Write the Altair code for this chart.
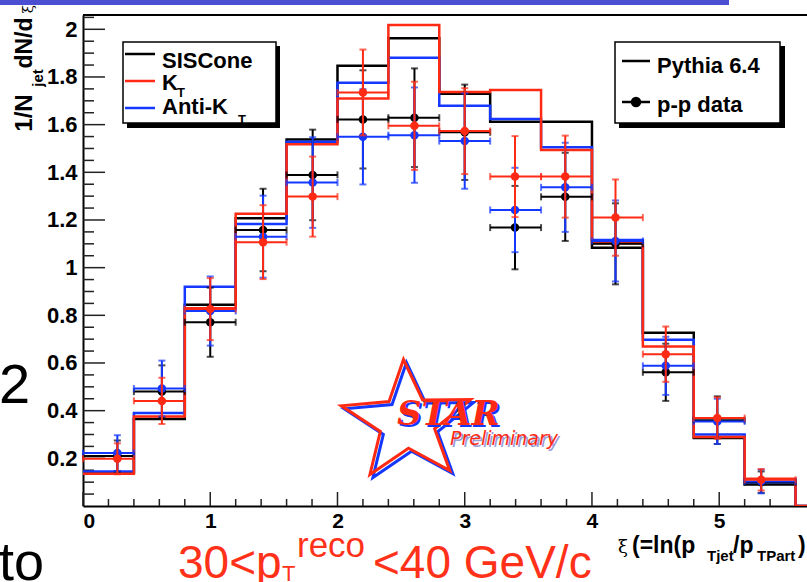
import math
import altair as alt
import pandas as pd

# ---------------- data ----------------
bin_edges = [0.0, 0.4, 0.8, 1.2, 1.6, 2.0, 2.4, 2.8, 3.2, 3.6, 4.0, 4.4, 4.8, 5.2, 5.6]
x_max = 5.69

# Pythia 6.4 histograms (per jet algorithm)
hist_siscone = [0.14, 0.365, 0.844, 1.207, 1.538, 1.847, 1.962, 1.73, 1.612, 1.612, 1.084, 0.727, 0.285, 0.09]
hist_kt = [0.135, 0.375, 0.83, 1.226, 1.518, 1.71, 2.018, 1.737, 1.745, 1.494, 1.102, 0.669, 0.29, 0.114]
hist_antikt = [0.145, 0.39, 0.92, 1.183, 1.528, 1.776, 1.881, 1.679, 1.624, 1.505, 1.116, 0.697, 0.30, 0.10]

# p-p data points (mean xi of each bin)
xi_points = [0.27, 0.62, 1.0, 1.415, 1.805, 2.2, 2.605, 3.0, 3.395, 3.79, 4.185, 4.58, 4.985, 5.33]
data_siscone = [0.21, 0.48, 0.771, 1.158, 1.389, 1.622, 1.629, 1.568, 1.168, 1.297, 1.10, 0.561, 0.36, 0.10]
err_siscone = [0.065, 0.11, 0.145, 0.173, 0.19, 0.206, 0.207, 0.2, 0.175, 0.185, 0.17, 0.12, 0.10, 0.045]
data_kt = [0.198, 0.441, 0.826, 1.107, 1.298, 1.735, 1.595, 1.573, 1.382, 1.382, 1.21, 0.637, 0.369, 0.11]
err_kt = [0.065, 0.097, 0.13, 0.155, 0.168, 0.18, 0.185, 0.18, 0.17, 0.172, 0.16, 0.116, 0.087, 0.045]
data_antikt = [0.222, 0.493, 0.818, 1.13, 1.357, 1.549, 1.556, 1.531, 1.242, 1.337, 1.112, 0.588, 0.355, 0.103]
err_antikt = [0.075, 0.117, 0.145, 0.172, 0.19, 0.2, 0.2, 0.2, 0.177, 0.187, 0.17, 0.122, 0.095, 0.05]

series_colors = ["#000000", "#ff2a14", "#1438ff"]

x_major = [0, 1, 2, 3, 4, 5]
y_major = [0.2, 0.4, 0.6, 0.8, 1.0, 1.2, 1.4, 1.6, 1.8, 2.0]

# ---------------- layout ----------------
W, H = 724, 491
Y_TOP = 2.06
FONT = "Liberation Sans"
RED_TEXT = "#ff3219"

xs = alt.Scale(domain=[0, x_max], nice=False, zero=False)
ys = alt.Scale(domain=[0, Y_TOP], nice=False, zero=False)


def hist_layer(values, color):
    xs_ = bin_edges + [x_max]
    ys_ = values + [0.0, 0.0]
    df = pd.DataFrame({"x": xs_, "y": ys_})
    return alt.Chart(df).mark_line(
        interpolate="step-after", color=color, strokeWidth=2.5, clip=True
    ).encode(x=alt.X("x:Q", scale=xs), y=alt.Y("y:Q", scale=ys))


def data_layers(vals, errs, color):
    df = pd.DataFrame({
        "x": xi_points,
        "y": vals,
        "lo": [v - e for v, e in zip(vals, errs)],
        "hi": [v + e for v, e in zip(vals, errs)],
        "xlo": bin_edges[:-1],
        "xhi": bin_edges[1:],
    })
    base = alt.Chart(df)
    X = lambda f: alt.X(f"{f}:Q", scale=xs)
    Y = lambda f: alt.Y(f"{f}:Q", scale=ys)
    return [
        base.mark_rule(color=color, strokeWidth=2).encode(x=X("x"), y=Y("lo"), y2="hi:Q"),
        base.mark_rule(color=color, strokeWidth=2).encode(x=X("xlo"), x2="xhi:Q", y=Y("y")),
        base.mark_tick(orient="horizontal", color=color, size=7, thickness=2).encode(x=X("x"), y=Y("lo")),
        base.mark_tick(orient="horizontal", color=color, size=7, thickness=2).encode(x=X("x"), y=Y("hi")),
        base.mark_tick(orient="vertical", color=color, size=7, thickness=2).encode(x=X("xlo"), y=Y("y")),
        base.mark_tick(orient="vertical", color=color, size=7, thickness=2).encode(x=X("xhi"), y=Y("y")),
        base.mark_circle(color=color, size=72, opacity=1).encode(x=X("x"), y=Y("y")),
    ]


def text(t, x, y, size=22, weight="bold", color="black", font=FONT, angle=0,
         align="left", baseline="alphabetic", style="normal"):
    kw = dict(font=font, fontSize=size, fontWeight=weight, color=color,
              align=align, baseline=baseline, fontStyle=style)
    if angle:
        kw["angle"] = angle
    return alt.Chart(pd.DataFrame({"t": [t]})).mark_text(**kw).encode(
        text="t:N", x=alt.value(x), y=alt.value(y))


def rect(x, x2, y, y2, fill, stroke=None, sw=0):
    kw = dict(fill=fill)
    if stroke:
        kw.update(stroke=stroke, strokeWidth=sw)
    return alt.Chart(pd.DataFrame({"a": [0]})).mark_rect(**kw).encode(
        x=alt.value(x), x2=alt.value(x2), y=alt.value(y), y2=alt.value(y2))


def hline(x, x2, y, color, sw=2.5):
    return alt.Chart(pd.DataFrame({"a": [0]})).mark_rule(color=color, strokeWidth=sw).encode(
        x=alt.value(x), x2=alt.value(x2), y=alt.value(y))


# ---------------- axes and ticks ----------------
axes = alt.Chart(pd.DataFrame({"x": [0.0], "y": [0.0]})).mark_point(opacity=0).encode(
    x=alt.X("x:Q", scale=xs, axis=alt.Axis(
        values=x_major, format="d", ticks=False, tickSize=0, grid=False, title=None,
        domainColor="black", domainWidth=2, labelFont=FONT, labelFontWeight="bold",
        labelFontSize=21, labelColor="black", labelPadding=4, labelBaseline="top")),
    y=alt.Y("y:Q", scale=ys, axis=alt.Axis(
        values=y_major, format="~g", ticks=False, tickSize=0, grid=False, title=None,
        domainColor="black", domainWidth=2, labelFont=FONT, labelFontWeight="bold",
        labelFontSize=22, labelColor="black", labelPadding=6)),
)

y_minor = [round(0.05 * i, 2) for i in range(1, 42) if i % 4 != 0]
x_minor = [round(0.2 * i, 1) for i in range(1, 29) if i % 5 != 0]

tick_col = "#222222"
yt_major = alt.Chart(pd.DataFrame({"v": y_major})).mark_rule(color=tick_col, strokeWidth=1.5).encode(
    y=alt.Y("v:Q", scale=ys), x=alt.value(0), x2=alt.value(22))
yt_minor = alt.Chart(pd.DataFrame({"v": y_minor})).mark_rule(color=tick_col, strokeWidth=1.5).encode(
    y=alt.Y("v:Q", scale=ys), x=alt.value(0), x2=alt.value(11))
xt_major = alt.Chart(pd.DataFrame({"v": x_major})).mark_rule(color=tick_col, strokeWidth=1.5).encode(
    x=alt.X("v:Q", scale=xs), y=alt.value(H), y2=alt.value(H - 14))
xt_minor = alt.Chart(pd.DataFrame({"v": x_minor})).mark_rule(color=tick_col, strokeWidth=1.5).encode(
    x=alt.X("v:Q", scale=xs), y=alt.value(H), y2=alt.value(H - 7))
top_border = hline(0, W, 0, "black", 2)

# ---------------- STAR logo ----------------
def star_path(inner=0.4, rot=0.0, squash=1.0):
    pts = []
    for k in range(10):
        r = 1.0 if k % 2 == 0 else inner
        a = math.radians(-90 + rot + 36 * k)
        pts.append(f"{r * math.cos(a):.3f},{squash * r * math.sin(a):.3f}")
    return "M" + "L".join(pts) + "Z"


star_shape = star_path(0.42, -3, 0.92)


def star(x, y, color):
    return alt.Chart(pd.DataFrame({"a": [0]})).mark_point(
        shape=star_shape, size=18500, filled=False, stroke=color, strokeWidth=3, opacity=1
    ).encode(x=alt.value(x), y=alt.value(y))


logo = [
    star(327, 410, "#1438ff"),
    star(324, 407, "#ff2a14"),
    text("STAR", 316, 412, size=34, weight="bold", color="#1438ff", font="DejaVu Serif", style="italic"),
    text("STAR", 314, 410, size=34, weight="bold", color="#ff2a14", font="DejaVu Serif", style="italic"),
    text("Preliminary", 369, 432, size=19, weight="normal", color="#9aa0d8", font="DejaVu Sans", style="italic"),
    text("Preliminary", 367, 430, size=19, weight="normal", color="#ff2a14", font="DejaVu Sans", style="italic"),
]

# ---------------- legends ----------------
leg1 = [
    rect(44, 197, 31, 113, "black"),
    rect(40, 193, 27, 108, "white", "black", 1.5),
    hline(42, 72, 39, "#000000"),
    text("SISCone", 79, 53),
    hline(42, 72, 66, "#ff2a14"),
    text("K", 79, 75),
    text("T", 94, 82, size=13),
    hline(42, 72, 93, "#1438ff"),
    text("Anti-K", 79, 99),
    text("T", 155, 109, size=13),
]
leg2 = [
    rect(536, 702, 31, 113, "black"),
    rect(532, 697, 27, 108, "white", "black", 1.5),
    hline(539, 567, 46, "black", 2.5),
    text("Pythia 6.4", 574, 58),
    hline(539, 567, 87, "black", 2.5),
    alt.Chart(pd.DataFrame({"a": [0]})).mark_circle(color="black", size=110, opacity=1).encode(
        x=alt.value(553), y=alt.value(87)),
    text("p-p data", 574, 97),
]

# ---------------- titles ----------------
y_title = [
    text("1/N", -58, 98, size=24, angle=270, align="center", baseline="middle"),
    text("jet", -45, 63, size=15, angle=270, align="center", baseline="middle"),
    text("dN/d", -58, 28, size=23, angle=270, align="center", baseline="middle"),
    text("ξ", -55, -6, size=15, weight="normal", font="DejaVu Serif", angle=270,
         align="center", baseline="middle"),
]
x_title = [
    text("ξ", 535, 538, size=18, weight="normal", font="DejaVu Serif"),
    text("(=ln(p", 549, 538, size=23),
    text("Tjet", 624, 546, size=15),
    text("/p", 650, 538, size=23),
    text("TPart", 674, 546, size=15),
    text(")", 715, 538, size=23),
]
slide_text = [
    rect(-83, 646, -15, -10, "#4a4fd1"),
    text("2", -84, 388, size=56, weight="normal"),
    text("to", -84, 565, size=54, weight="normal"),
    text("30<p", 95, 563, size=46, weight="normal", color=RED_TEXT),
    text("T", 199, 566, size=22, weight="normal", color=RED_TEXT),
    text("reco", 214, 542, size=35, weight="normal", color=RED_TEXT),
    text("<40 GeV/c", 290, 563, size=46, weight="normal", color=RED_TEXT),
]

# ---------------- assemble ----------------
layers = [axes, yt_major, yt_minor, xt_major, xt_minor, top_border]
layers += logo
layers += [hist_layer(hist_siscone, series_colors[0]),
           hist_layer(hist_antikt, series_colors[2]),
           hist_layer(hist_kt, series_colors[1])]
layers += data_layers(data_siscone, err_siscone, series_colors[0])
layers += data_layers(data_antikt, err_antikt, series_colors[2])
layers += data_layers(data_kt, err_kt, series_colors[1])
layers += leg1 + leg2 + y_title + x_title + slide_text

chart = alt.layer(*layers).properties(
    width=W, height=H,
    autosize=alt.AutoSizeParams(type="none"),
    padding={"left": 83, "top": 15, "right": 0, "bottom": 76},
    background="white",
).configure_view(stroke=None)

chart.save("out.html", embed_options={"renderer": "svg", "actions": False})
